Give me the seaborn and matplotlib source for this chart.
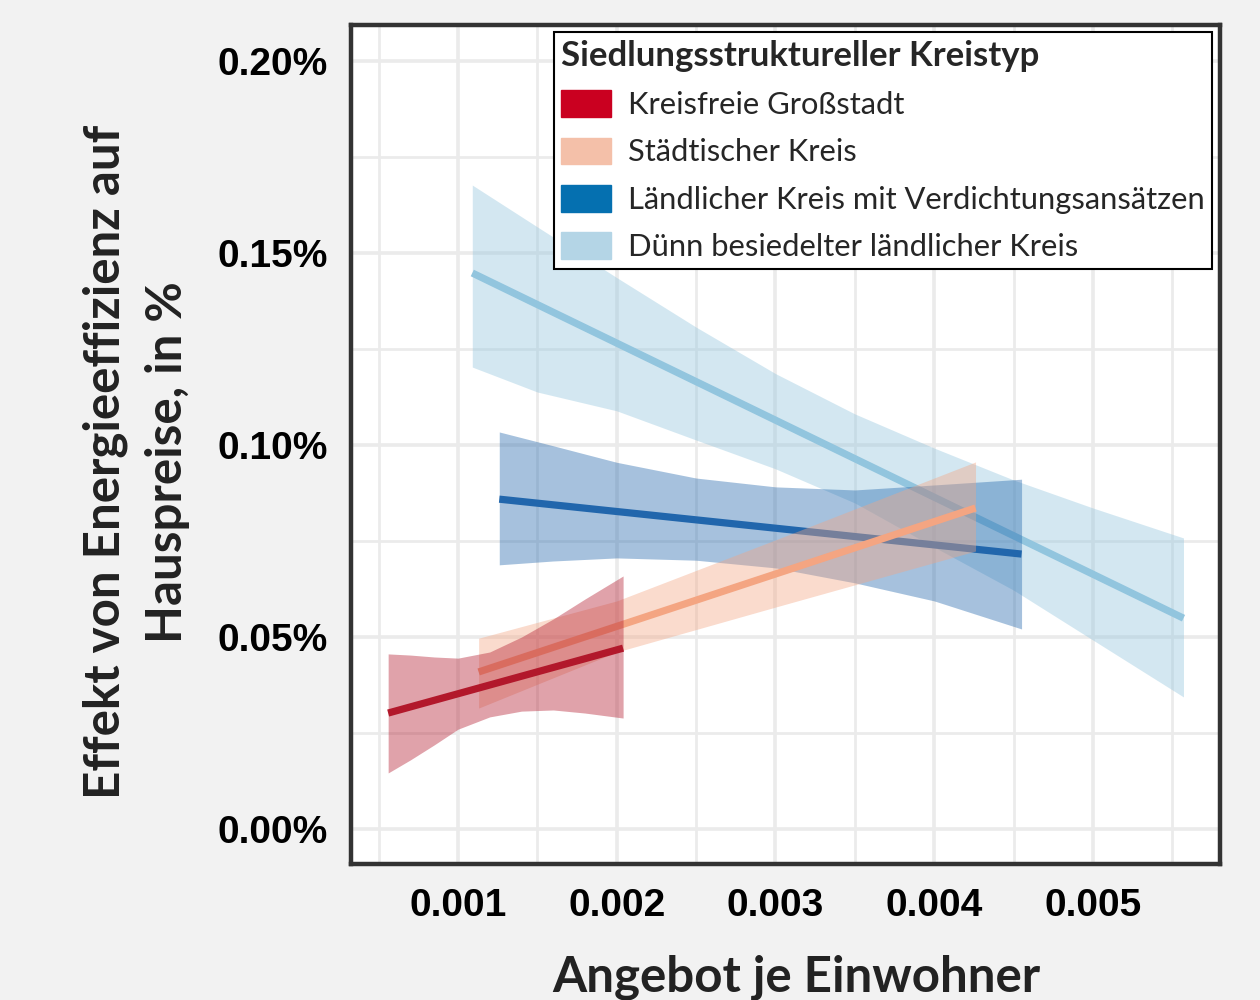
import numpy as np
import pandas as pd
import matplotlib
matplotlib.use("Agg")
import matplotlib.pyplot as plt
from matplotlib.patches import Patch
from matplotlib.ticker import MultipleLocator, PercentFormatter, FormatStrFormatter
import seaborn as sns

# ---------------- data ----------------
groups = ["Kreisfreie Großstadt", "Städtischer Kreis",
          "Ländlicher Kreis mit Verdichtungsansätzen",
          "Dünn besiedelter ländlicher Kreis"]

red_line_x = [0.00056, 0.00204]
red_line_y = [0.000302, 0.000471]
red_band_x = [0.00056, 0.0007, 0.00085, 0.001, 0.0012, 0.0014, 0.0016, 0.0018, 0.00204]
red_band_lo = [0.000146, 0.000180, 0.000219, 0.000260, 0.000292, 0.000307, 0.000310, 0.000302, 0.000289]
red_band_hi = [0.000456, 0.000453, 0.000448, 0.000445, 0.000461, 0.000500, 0.000547, 0.000599, 0.000659]

orange_line_x = [0.00113, 0.00426]
orange_line_y = [0.000409, 0.000836]
orange_band_x = [0.00113, 0.002, 0.003, 0.00426]
orange_band_lo = [0.000315, 0.000461, 0.000578, 0.000724]
orange_band_hi = [0.000497, 0.000594, 0.000753, 0.000956]

dblue_line_x = [0.00126, 0.00455]
dblue_line_y = [0.000859, 0.000716]
dblue_band_x = [0.00126, 0.0016, 0.002, 0.0025, 0.003, 0.0035, 0.004, 0.00455]
dblue_band_lo = [0.000688, 0.000698, 0.000706, 0.000700, 0.000680, 0.000641, 0.000594, 0.000521]
dblue_band_hi = [0.001034, 0.000998, 0.000955, 0.000914, 0.000891, 0.000883, 0.000896, 0.000911]

lblue_line_x = [0.00109, 0.00557]
lblue_line_y = [0.001448, 0.000549]
lblue_band_x = [0.00109, 0.0015, 0.002, 0.0025, 0.003, 0.0035, 0.004, 0.0045, 0.005, 0.00557]
lblue_band_lo = [0.001203, 0.001138, 0.001089, 0.001013, 0.000938, 0.000849, 0.000734, 0.000622, 0.000492, 0.000344]
lblue_band_hi = [0.001677, 0.001568, 0.001436, 0.001307, 0.001186, 0.001081, 0.000992, 0.000909, 0.000836, 0.000758]

x_ticks = [0.001, 0.002, 0.003, 0.004, 0.005]
y_ticks = [0.0, 0.0005, 0.001, 0.0015, 0.002]

# ---------------- styles ----------------
line_colors = ["#b2182b", "#f4a582", "#2166ac", "#92c5de"]
swatch_colors = ["#ca0020", "#f4c0a9", "#0570b0", "#b4d5e6"]
BG = "#f2f2f2"
DARK = "#333333"

sns.set_theme(style="white")
plt.rcParams["font.family"] = ["Liberation Sans", "DejaVu Sans"]

lines_df = pd.concat([
    pd.DataFrame({"x": red_line_x, "y": red_line_y, "g": groups[0]}),
    pd.DataFrame({"x": orange_line_x, "y": orange_line_y, "g": groups[1]}),
    pd.DataFrame({"x": dblue_line_x, "y": dblue_line_y, "g": groups[2]}),
    pd.DataFrame({"x": lblue_line_x, "y": lblue_line_y, "g": groups[3]}),
], ignore_index=True)

bands = [
    (red_band_x, red_band_lo, red_band_hi),
    (orange_band_x, orange_band_lo, orange_band_hi),
    (dblue_band_x, dblue_band_lo, dblue_band_hi),
    (lblue_band_x, lblue_band_lo, lblue_band_hi),
]

fig = plt.figure(figsize=(12.6, 10), dpi=100, facecolor=BG)
ax = fig.add_axes([351 / 1260, 1 - 864 / 1000, (1220 - 351) / 1260, (864 - 25) / 1000])
ax.set_facecolor("white")

# draw in reverse order so that the first group ends on top
for i in [3, 2, 1, 0]:
    bx, blo, bhi = bands[i]
    ax.fill_between(bx, blo, bhi, color=line_colors[i], alpha=0.4, lw=0, zorder=3 + 2 * (3 - i))
    sub = lines_df[lines_df["g"] == groups[i]]
    sns.lineplot(data=sub, x="x", y="y", color=line_colors[i], lw=5.2, ax=ax,
                 legend=False, zorder=4 + 2 * (3 - i), solid_capstyle="butt")

ax.set_xlim(0.000326, 0.0058)
ax.set_ylim(-0.0000911, 0.0020938)
ax.set_xticks(x_ticks)
ax.set_yticks(y_ticks)
ax.xaxis.set_minor_locator(MultipleLocator(0.0005))
ax.yaxis.set_minor_locator(MultipleLocator(0.00025))
ax.xaxis.set_major_formatter(FormatStrFormatter("%.3f"))
ax.yaxis.set_major_formatter(PercentFormatter(xmax=1, decimals=2))

ax.grid(which="major", color="#ebebeb", lw=2.6, zorder=0)
ax.grid(which="minor", color="#ebebeb", lw=2.0, zorder=0)
ax.set_axisbelow(True)
for s in ax.spines.values():
    s.set_color(DARK)
    s.set_linewidth(3.2)
ax.tick_params(which="major", length=9, width=2.8, color=DARK, pad=8,
               labelsize=28, labelcolor="black")
ax.tick_params(which="minor", length=0)
for lab in ax.get_xticklabels() + ax.get_yticklabels():
    lab.set_fontweight("bold")
ax.set_xlabel("")
ax.set_ylabel("")

fig.text(796 / 1260, 1 - 992 / 1000, "Angebot je Einwohner", ha="center", va="baseline",
         fontsize=35.5, fontweight="bold", color="#222222", family=["Lato", "DejaVu Sans"])
fig.text(136 / 1260, 1 - 462 / 1000, "Effekt von Energieeffizienz auf\nHauspreise, in %",
         ha="center", va="center", rotation=90, multialignment="center",
         fontsize=35.5, fontweight="bold", color="#222222", linespacing=1.45,
         family=["Lato", "DejaVu Sans"])

handles = [Patch(facecolor=c, edgecolor=c, label=g) for c, g in zip(swatch_colors, groups)]
leg = ax.legend(handles=handles, title="Siedlungsstruktureller Kreistyp",
                loc="upper right", bbox_to_anchor=(0.991, 0.9917), borderaxespad=0,
                frameon=True, fancybox=False, edgecolor="black", framealpha=1,
                prop={"family": ["Lato", "DejaVu Sans"], "size": 22.2},
                title_fontproperties={"family": ["Lato", "DejaVu Sans"], "size": 25, "weight": "bold"},
                handlelength=1.6, handleheight=0.95, labelspacing=0.6, handletextpad=0.55,
                borderpad=0.25, alignment="left")
leg.get_frame().set_linewidth(1.5)
leg.set_zorder(20)

fig.savefig("out.png", dpi=100, facecolor=BG)
